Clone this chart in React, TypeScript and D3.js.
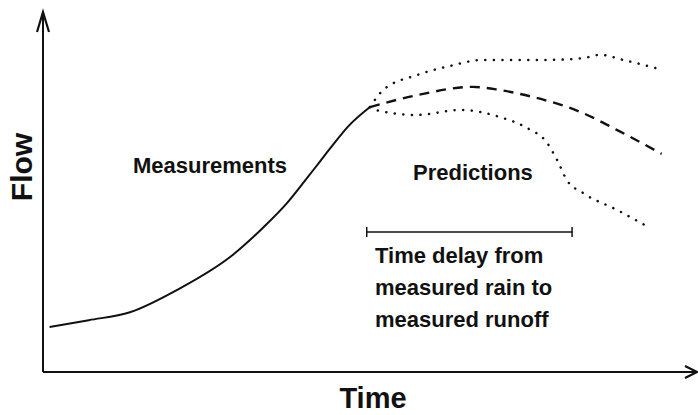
import * as d3 from 'd3'

// readings in arbitrary time / flow units (0..100)
const measuredT = [1, 7, 13.3, 20.5, 29, 33.6, 37.3, 40, 42.4, 44.3, 46.6, 50]
const measuredF = [12.5, 14.4, 16.6, 22.8, 32.5, 40, 46.9, 53, 58.6, 63, 68.1, 73.6]

const upperT = [50, 52, 57.2, 62.2, 67.3, 77.5, 82.6, 85.2, 88.7, 94.8]
const upperF = [73.6, 78.3, 82.5, 85, 86.7, 86.7, 87.2, 88.1, 86.7, 83.9]

const midT = [50, 57.2, 65.7, 69.9, 74.9, 82.6, 87.8, 94.6]
const midF = [73.6, 76.9, 79.2, 78.3, 76.4, 71.9, 67.2, 60.6]

const lowerT = [50, 50.8, 57.2, 63.8, 69.9, 74, 77.1, 78.6, 80.1, 82.6, 87.8, 92.8]
const lowerF = [73.6, 72.8, 71.4, 72.8, 70.8, 67.8, 63.6, 58.9, 53.3, 49.7, 45, 40]

const delayStart = 49.5
const delayEnd = 80.9
const delayFlow = 38.9

const delayText = ['Time delay from', 'measured rain to', 'measured runoff']

const W = 698
const H = 415
const font = '"Liberation Sans", Arial, Helvetica, sans-serif'
const ink = '#111'

export default function App() {
  const x = d3.scaleLinear().domain([0, 100]).range([43, 697])
  const y = d3.scaleLinear().domain([0, 100]).range([372, 12])

  const line = d3.line<[number, number]>()
    .x(d => x(d[0]))
    .y(d => y(d[1]))
    .curve(d3.curveMonotoneX)

  const zip = (a: number[], b: number[]) => a.map((v, i) => [v, b[i]] as [number, number])

  const x0 = x(0), x1 = x(100), y0 = y(0), y1 = y(100)
  const by = y(delayFlow)

  return (
    <svg width={W} height={H} style={{ position: 'absolute', left: 0, top: 0, background: '#fff' }}>
      {/* axes */}
      <line x1={x0} y1={y0} x2={x0} y2={y1} stroke={ink} strokeWidth={2} />
      <line x1={x0} y1={y0} x2={x1} y2={y0} stroke={ink} strokeWidth={2} />
      <path d={`M${x0 - 6},${y1 + 20} L${x0},${y1} L${x0 + 6},${y1 + 20}`} fill="none" stroke={ink} strokeWidth={2.2} />
      <path d={`M${x1 - 12},${y0 - 6} L${x1},${y0} L${x1 - 12},${y0 + 6}`} fill="none" stroke={ink} strokeWidth={2.2} />

      <text x={32} y={167} transform="rotate(-90 32 167)" textAnchor="middle"
        fontFamily={font} fontWeight="bold" fontSize={30} fill={ink}>Flow</text>
      <text x={373} y={408} textAnchor="middle"
        fontFamily={font} fontWeight="bold" fontSize={29} fill={ink}>Time</text>

      {/* curves */}
      <path d={line(zip(measuredT, measuredF)) ?? ''} fill="none" stroke={ink} strokeWidth={2} />
      <path d={line(zip(midT, midF)) ?? ''} fill="none" stroke={ink} strokeWidth={2.4} strokeDasharray="10,7" />
      <path d={line(zip(upperT, upperF)) ?? ''} fill="none" stroke={ink} strokeWidth={2.5}
        strokeDasharray="0.1,8.5" strokeLinecap="round" />
      <path d={line(zip(lowerT, lowerF)) ?? ''} fill="none" stroke={ink} strokeWidth={2.5}
        strokeDasharray="0.1,8.5" strokeLinecap="round" />

      {/* delay bar */}
      <line x1={x(delayStart)} y1={by} x2={x(delayEnd)} y2={by} stroke={ink} strokeWidth={1.5} />
      <line x1={x(delayStart)} y1={by - 5} x2={x(delayStart)} y2={by + 5} stroke={ink} strokeWidth={1.5} />
      <line x1={x(delayEnd)} y1={by - 5} x2={x(delayEnd)} y2={by + 5} stroke={ink} strokeWidth={1.5} />

      <text x={133} y={173} fontFamily={font} fontWeight="bold" fontSize={22} fill={ink}>Measurements</text>
      <text x={413} y={180} fontFamily={font} fontWeight="bold" fontSize={22} fill={ink}>Predictions</text>
      {delayText.map((t, i) => (
        <text key={t} x={375} y={263 + i * 32} fontFamily={font} fontWeight="bold" fontSize={22} fill={ink}>{t}</text>
      ))}
    </svg>
  )
}
